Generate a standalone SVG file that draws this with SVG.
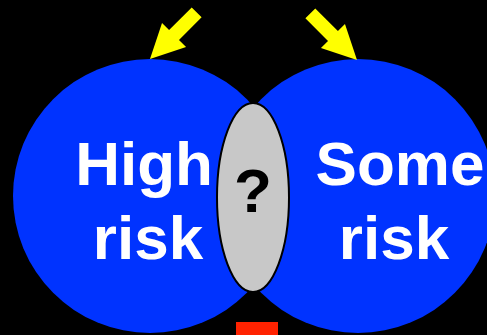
<svg xmlns="http://www.w3.org/2000/svg" width="487" height="335" viewBox="0 0 487 335">
<defs>
<style>
.circ{fill:#0033ff;}
.lbl{font-family:"Liberation Sans",Arial,sans-serif;font-weight:bold;font-size:62px;fill:#ffffff;text-anchor:middle;}
.q{font-family:"Liberation Sans",Arial,sans-serif;font-weight:bold;font-size:62px;fill:#000000;text-anchor:middle;}
.arrow{fill:#ffff00;}
</style>
<path id="arr" d="M0,0 L-34,-17 L-34,-7 L-66,-7 L-66,7 L-34,7 L-34,17 Z"/>
</defs>
<rect x="0" y="0" width="487" height="335" fill="#000000"/>
<g id="high-risk">
<ellipse class="circ" cx="150" cy="196" rx="137" ry="137"/>
</g>
<g id="some-risk">
<ellipse class="circ" cx="358" cy="196" rx="137" ry="137"/>
</g>
<g id="high-risk-label">
<text class="lbl" x="144" y="185">High</text>
<text class="lbl" x="148" y="259">risk</text>
</g>
<g id="some-risk-label">
<text class="lbl" x="400" y="185">Some</text>
<text class="lbl" x="394" y="259">risk</text>
</g>
<g id="overlap">
<ellipse cx="253" cy="197.5" rx="36" ry="94.5" fill="#c8c8c8" stroke="#000000" stroke-width="2"/>
<text class="q" x="253" y="212">?</text>
</g>
<g id="connectors">
<use href="#arr" class="arrow" transform="translate(150,59) rotate(135)"/>
<use href="#arr" class="arrow" transform="translate(357,60) rotate(45)"/>
</g>
<g id="bar">
<rect x="236" y="322" width="42" height="13" fill="#ff2200"/>
</g>
</svg>
